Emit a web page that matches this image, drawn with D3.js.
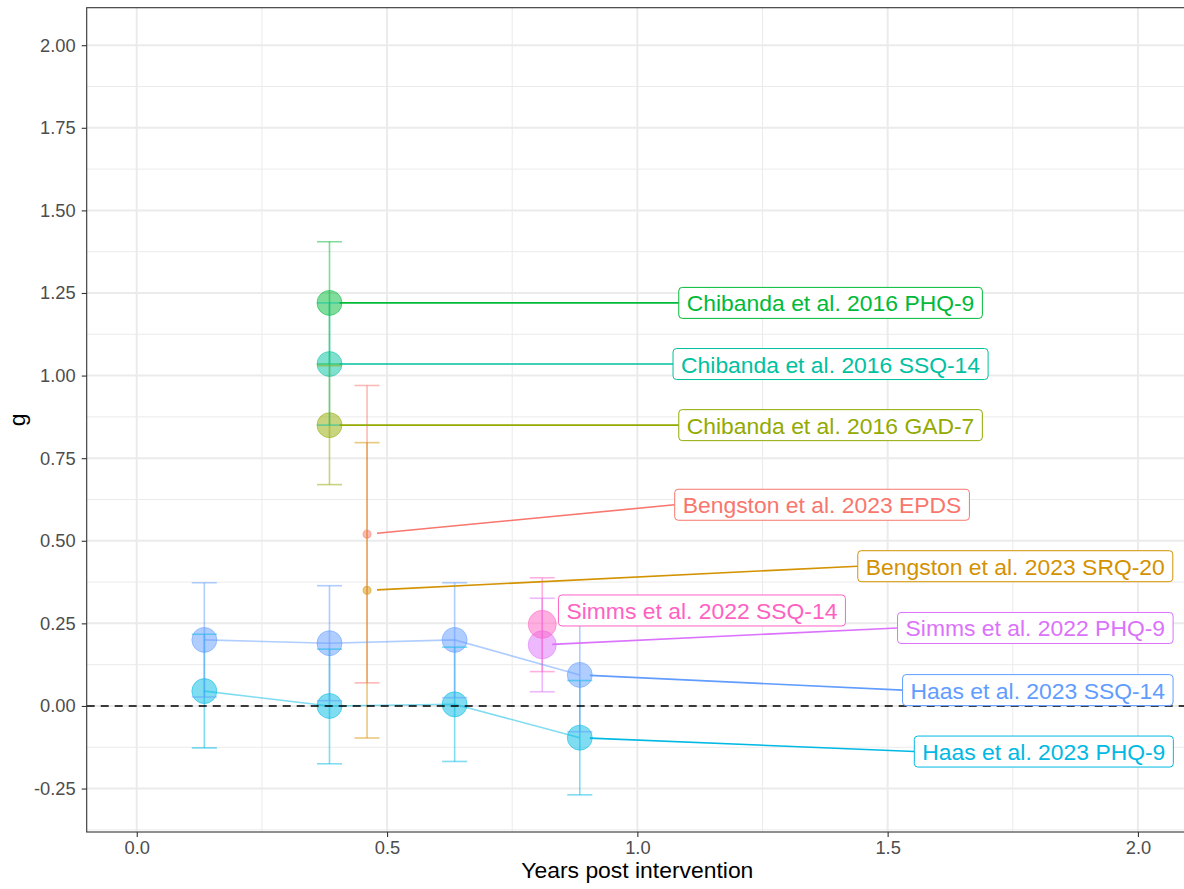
<!DOCTYPE html>
<html>
<head>
<meta charset="utf-8">
<script src="https://cdnjs.cloudflare.com/ajax/libs/d3/7.8.5/d3.min.js"></script>
<style>
    body { margin: 0; background: #fff; }
    svg { display: block; font-family: "Liberation Sans", Arial, Helvetica, sans-serif; }
</style>
</head>
<body>
<div id="chart"></div>
<script>
// studies / outcomes (one colour each, ggplot hue order)
var studies = ["Bengston et al. 2023 EPDS", "Bengston et al. 2023 SRQ-20", "Chibanda et al. 2016 GAD-7",
               "Chibanda et al. 2016 PHQ-9", "Chibanda et al. 2016 SSQ-14", "Haas et al. 2023 PHQ-9",
               "Haas et al. 2023 SSQ-14", "Simms et al. 2022 PHQ-9", "Simms et al. 2022 SSQ-14"];
var colors = ["#F8766D", "#D39200", "#93AA00", "#00BA38", "#00C19F", "#00B9E3", "#619CFF", "#DB72FB", "#FF61C3"];

// one entry per effect size
var obsStudy = [0, 1, 2, 3, 4, 5, 5, 5, 5, 6, 6, 6, 6, 7, 8];
var obsYears = [0.46, 0.46, 0.385, 0.385, 0.385, 0.135, 0.385, 0.635, 0.885, 0.135, 0.385, 0.635, 0.885, 0.81, 0.81];
var obsG     = [0.52, 0.35, 0.85, 1.22, 1.035, 0.045, 0.0, 0.005, -0.096, 0.20, 0.19, 0.20, 0.094, 0.185, 0.247];
var obsLow   = [0.07, -0.097, 0.67, 1.035, 0.85, -0.127, -0.175, -0.168, -0.269, 0.027, 0.016, 0.025, -0.078, 0.043, 0.104];
var obsHigh  = [0.97, 0.797, 1.03, 1.405, 1.22, 0.217, 0.172, 0.178, 0.077, 0.373, 0.364, 0.373, 0.267, 0.326, 0.388];
var obsWeight = [30, 30, 290, 290, 290, 290, 290, 290, 290, 290, 290, 290, 290, 365, 365];

// ticks
var xTicks = [0, 0.5, 1, 1.5, 2];
var yTicks = [-0.25, 0, 0.25, 0.5, 0.75, 1, 1.25, 1.5, 1.75, 2];

// repelled label centres (data units), as placed in the original
var labelX = [1.369, 1.755, 1.386, 1.386, 1.386, 1.812, 1.800, 1.795, 1.129];
var labelY = [0.609, 0.423, 0.85, 1.22, 1.035, -0.138, 0.048, 0.236, 0.289];

var W = 1184, H = 889;
var panel = {left: 86.7, top: 7.7, right: 1188, bottom: 832};

var x = d3.scaleLinear().domain([-0.1, 2.1]).range([panel.left, panel.right]);
var y = d3.scaleLinear().domain([-0.3815, 2.1135]).range([panel.bottom, panel.top]);
var r = d3.scaleSqrt().domain([0, 290]).range([0, 12.5]);

var data = obsStudy.map(function(s, i) {
    return {study: s, x: obsYears[i], g: obsG[i], lo: obsLow[i], hi: obsHigh[i], w: obsWeight[i]};
});

var svg = d3.select("#chart").append("svg").attr("width", W).attr("height", H);

svg.append("defs").append("clipPath").attr("id", "clip")
    .append("rect").attr("x", panel.left).attr("y", panel.top)
    .attr("width", panel.right - panel.left).attr("height", panel.bottom - panel.top);

var grid = svg.append("g");
var xMinor = [0.25, 0.75, 1.25, 1.75];
var yMinor = d3.range(-0.375, 2.1, 0.25);
grid.selectAll(".xminor").data(xMinor).enter().append("line")
    .attr("x1", function(d){ return x(d); }).attr("x2", function(d){ return x(d); })
    .attr("y1", panel.top).attr("y2", panel.bottom)
    .attr("stroke", "#EBEBEB").attr("stroke-width", 1);
grid.selectAll(".yminor").data(yMinor).enter().append("line")
    .attr("y1", function(d){ return y(d); }).attr("y2", function(d){ return y(d); })
    .attr("x1", panel.left).attr("x2", panel.right)
    .attr("stroke", "#EBEBEB").attr("stroke-width", 1);
grid.selectAll(".xmajor").data(xTicks).enter().append("line")
    .attr("x1", function(d){ return x(d); }).attr("x2", function(d){ return x(d); })
    .attr("y1", panel.top).attr("y2", panel.bottom)
    .attr("stroke", "#EBEBEB").attr("stroke-width", 2);
grid.selectAll(".ymajor").data(yTicks).enter().append("line")
    .attr("y1", function(d){ return y(d); }).attr("y2", function(d){ return y(d); })
    .attr("x1", panel.left).attr("x2", panel.right)
    .attr("stroke", "#EBEBEB").attr("stroke-width", 2);

var plot = svg.append("g").attr("clip-path", "url(#clip)");

// points
plot.selectAll(".pt").data(data).enter().append("circle")
    .attr("cx", function(d){ return x(d.x); })
    .attr("cy", function(d){ return y(d.g); })
    .attr("r", function(d){ return r(d.w); })
    .attr("fill", function(d){ return colors[d.study]; }).attr("fill-opacity", 0.5)
    .attr("stroke", function(d){ return colors[d.study]; }).attr("stroke-opacity", 0.5).attr("stroke-width", 1);

// error bars
var capHalf = 0.025;
var eb = plot.selectAll(".eb").data(data).enter().append("g")
    .attr("stroke", function(d){ return colors[d.study]; })
    .attr("stroke-opacity", 0.5).attr("stroke-width", 1.6).attr("fill", "none");
eb.append("line")
    .attr("x1", function(d){ return x(d.x); }).attr("x2", function(d){ return x(d.x); })
    .attr("y1", function(d){ return y(d.lo); }).attr("y2", function(d){ return y(d.hi); });
eb.append("line")
    .attr("x1", function(d){ return x(d.x - capHalf); }).attr("x2", function(d){ return x(d.x + capHalf); })
    .attr("y1", function(d){ return y(d.lo); }).attr("y2", function(d){ return y(d.lo); });
eb.append("line")
    .attr("x1", function(d){ return x(d.x - capHalf); }).attr("x2", function(d){ return x(d.x + capHalf); })
    .attr("y1", function(d){ return y(d.hi); }).attr("y2", function(d){ return y(d.hi); });

// lines joining repeated measures
var line = d3.line().x(function(d){ return x(d.x); }).y(function(d){ return y(d.g); });
var byStudy = d3.groups(data, function(d){ return d.study; });
byStudy.forEach(function(grp) {
    if (grp[1].length < 2) return;
    plot.append("path").datum(grp[1]).attr("d", line)
        .attr("fill", "none").attr("stroke", colors[grp[0]])
        .attr("stroke-opacity", 0.5).attr("stroke-width", 1.6);
});

// zero reference
plot.append("line")
    .attr("x1", panel.left).attr("x2", panel.right)
    .attr("y1", y(0)).attr("y2", y(0))
    .attr("stroke", "#000").attr("stroke-width", 1.5).attr("stroke-dasharray", "8,6");

// labels with segments
var labelLayer = plot.append("g");
var fontSize = 22.9;
byStudy.forEach(function(grp) {
    var s = grp[0], pts = grp[1];
    var anchor = pts[pts.length - 1];
    var px = x(anchor.x), py = y(anchor.g);
    var cx = x(labelX[s]), cy = y(labelY[s]);

    var gLab = labelLayer.append("g");
    var txt = gLab.append("text").text(studies[s])
        .attr("font-size", fontSize + "px").attr("fill", colors[s])
        .attr("text-anchor", "middle").attr("dominant-baseline", "central")
        .attr("x", cx).attr("y", cy + 0.5);
    var tw = txt.node().getComputedTextLength();
    var bw = tw + 16, bh = 31;
    var ex = cx - bw / 2, ey = cy;

    var dx = ex - px, dy = ey - py, len = Math.sqrt(dx * dx + dy * dy);
    if (len - 10 > 15) {
        labelLayer.insert("line", ":first-child")
            .attr("x1", px + dx / len * 10).attr("y1", py + dy / len * 10)
            .attr("x2", ex).attr("y2", ey)
            .attr("stroke", colors[s]).attr("stroke-width", 1.6);
    }
    gLab.insert("rect", "text")
        .attr("x", cx - bw / 2).attr("y", cy - bh / 2)
        .attr("width", bw).attr("height", bh).attr("rx", 3.5)
        .attr("fill", "#fff").attr("stroke", colors[s]).attr("stroke-width", 1);
});

// panel border
svg.append("rect").attr("x", panel.left).attr("y", panel.top)
    .attr("width", panel.right - panel.left).attr("height", panel.bottom - panel.top)
    .attr("fill", "none").attr("stroke", "#333").attr("stroke-width", 1.1);

// axes
var fmtY = function(d) { return d3.format(".2f")(d).replace("\u2212", "-"); };
var xAxis = svg.append("g").attr("transform", "translate(0," + panel.bottom + ")")
    .call(d3.axisBottom(x).tickValues(xTicks).tickFormat(d3.format(".1f")).tickSize(5).tickPadding(4));
var yAxis = svg.append("g").attr("transform", "translate(" + panel.left + ",0)")
    .call(d3.axisLeft(y).tickValues(yTicks).tickFormat(fmtY).tickSize(5).tickPadding(6));
[xAxis, yAxis].forEach(function(a) {
    a.select(".domain").remove();
    a.selectAll(".tick line").attr("stroke", "#333").attr("stroke-width", 1.1);
    a.selectAll(".tick text").attr("fill", "#4D4D4D").attr("font-size", "18.3px")
        .attr("font-family", "'Liberation Sans', Arial, Helvetica, sans-serif");
});

svg.append("text").text("Years post intervention")
    .attr("x", (panel.left + panel.right) / 2).attr("y", 878)
    .attr("text-anchor", "middle").attr("font-size", fontSize + "px").attr("fill", "#000");
svg.append("text").text("g")
    .attr("transform", "translate(25," + ((panel.top + panel.bottom) / 2) + ") rotate(-90)")
    .attr("text-anchor", "middle").attr("font-size", fontSize + "px").attr("fill", "#000");
</script>
</body>
</html>
